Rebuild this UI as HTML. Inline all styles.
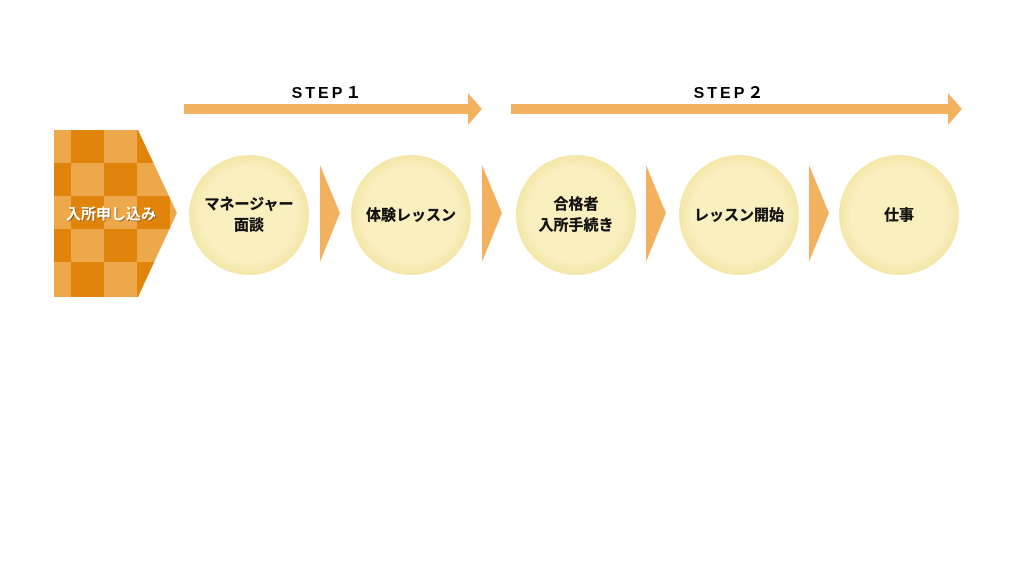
<!DOCTYPE html><html><head><meta charset="utf-8"><style>body{margin:0;background:#fff}svg{display:block}
text{font-family:"Liberation Sans","Noto Sans CJK JP",sans-serif;font-weight:bold}</style></head><body>
<svg width="1024" height="576" viewBox="0 0 1024 576">
<defs><clipPath id="pc"><polygon points="54,130 138,130 177,213 138,297 54,297"/></clipPath>
<radialGradient id="cg" cx="50%" cy="50%" r="50%"><stop offset="80%" stop-color="#f9efbf"/><stop offset="100%" stop-color="#f3e6a6"/></radialGradient></defs>
<g clip-path="url(#pc)">
<rect x="54" y="130" width="130" height="170" fill="#eca84a"/>
<g fill="#e0840c">
<rect x="71" y="130" width="33" height="33"/><rect x="137" y="130" width="33" height="33"/>
<rect x="54" y="163" width="17" height="33"/><rect x="104" y="163" width="33" height="33"/><rect x="170" y="163" width="33" height="33"/>
<rect x="71" y="196" width="33" height="33"/><rect x="137" y="196" width="33" height="33"/>
<rect x="54" y="229" width="17" height="33"/><rect x="104" y="229" width="33" height="33"/><rect x="170" y="229" width="33" height="33"/>
<rect x="71" y="262" width="33" height="35"/><rect x="137" y="262" width="33" height="35"/>
</g></g>
<text x="112" y="220" font-size="15" fill="#6b4010" text-anchor="middle" opacity="0.6">入所申し込み</text>
<text x="111" y="219" font-size="15" fill="#fff" text-anchor="middle">入所申し込み</text>
<g fill="#f2b15f">
<rect x="184" y="104" width="286" height="10"/><polygon points="468,93 482,109 468,125"/>
<rect x="511" y="104" width="439" height="10"/><polygon points="948,93 962,109 948,125"/>
<polygon points="320,165 340,213 320,262"/><polygon points="482,165 502,213 482,262"/>
<polygon points="646,165 666,213 646,262"/><polygon points="809,165 829,213 809,262"/>
</g>
<text x="328" y="98" font-size="16" text-anchor="middle" letter-spacing="3">STEP１</text>
<text x="730" y="98" font-size="16" text-anchor="middle" letter-spacing="3">STEP２</text>
<g fill="url(#cg)">
<circle cx="249" cy="215" r="60"/><circle cx="411" cy="215" r="60"/><circle cx="576" cy="215" r="60"/><circle cx="739" cy="215" r="60"/><circle cx="899" cy="215" r="60"/></g>
<g font-size="15" text-anchor="middle" fill="#111" stroke="#111" stroke-width="0.3">
<text x="249" y="209">マネージャー</text><text x="249" y="230">面談</text>
<text x="411" y="220">体験レッスン</text>
<text x="576" y="209">合格者</text><text x="576" y="230">入所手続き</text>
<text x="739" y="220">レッスン開始</text>
<text x="899" y="220">仕事</text></g>
</svg></body></html>
